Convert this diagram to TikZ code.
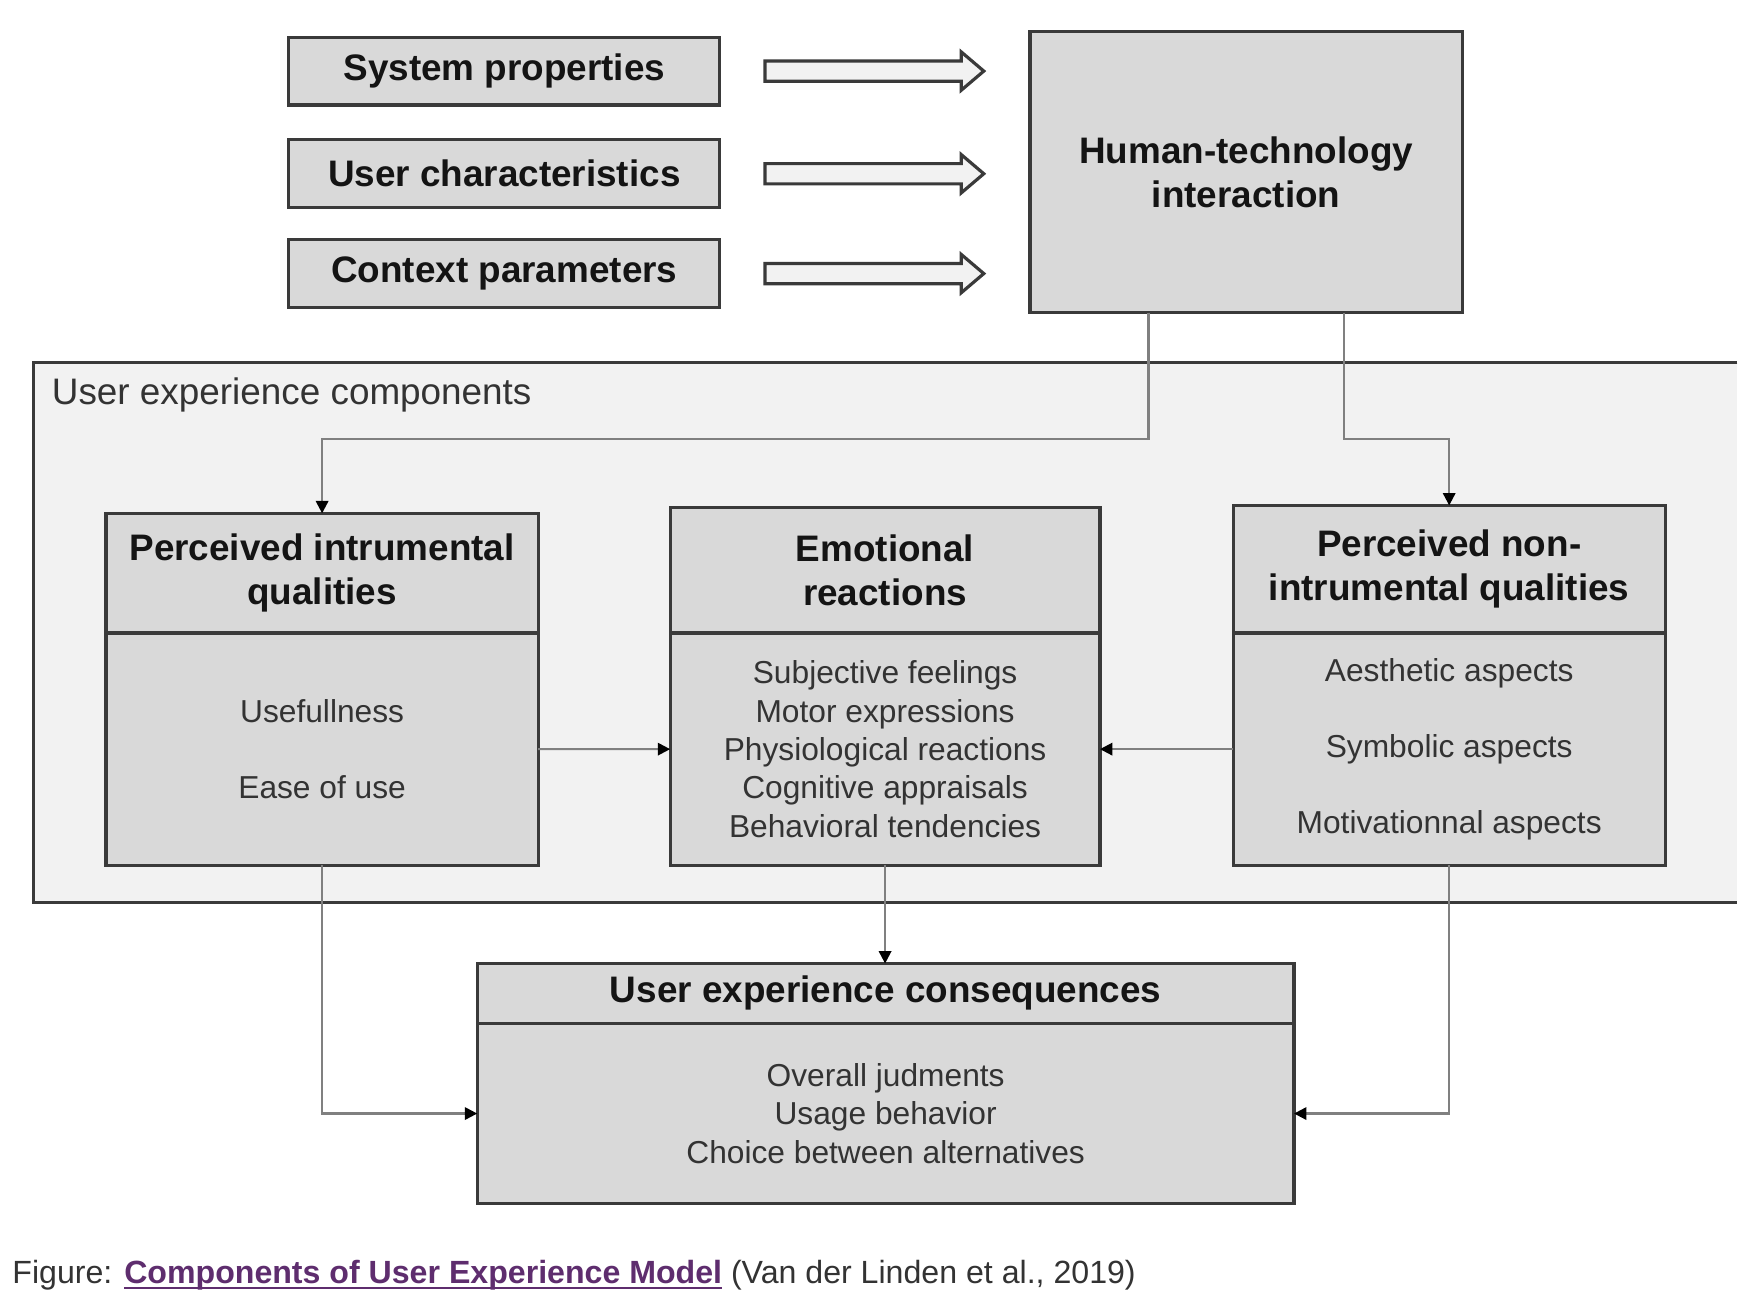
\documentclass[tikz,border=0pt]{standalone}
\usepackage{fontspec}
\setmainfont{Liberation Sans}
\usetikzlibrary{positioning, arrows.meta}
\definecolor{boxgray}{HTML}{D9D9D9}
\definecolor{panelgray}{HTML}{F2F2F2}
\definecolor{edgegray}{HTML}{3A3A3A}
\definecolor{linkgray}{HTML}{808080}
\definecolor{inkgray}{HTML}{141414}
\definecolor{bodygray}{HTML}{333333}
\definecolor{linkpurple}{HTML}{5E2D6E}
\newcommand{\linkul}[1]{\setbox0\hbox{#1}\rlap{\rule[-0.45mm]{\wd0}{0.22mm}}\box0}

\begin{document}
\begin{tikzpicture}[x=0.1mm, y=-0.1mm, inner sep=0pt, outer sep=0pt,
    box/.style = {draw=edgegray, line width=0.8pt, fill=boxgray, align=center, text=inkgray},
    head/.style = {box, font=\bfseries\fontsize{9.3}{11.1}\selectfont},
    body/.style = {box, text=bodygray, font=\fontsize{8.0}{9.7}\selectfont},
    input/.style = {head, minimum width=38.2mm, minimum height=6mm},
    fat/.style = {draw=edgegray, line width=0.8pt, fill=black!5, line join=miter},
    link/.style = {draw=linkgray, line width=0.55pt, -{Triangle[length=1.1mm, width=1.1mm, color=black]}}]

    \useasboundingbox[fill=white] (0,0) rectangle (1560,1156);

    % les entrees
    \node[input] (sys) at (447,63) {System properties};
    \node[input] (usr) at (447,154) {User characteristics};
    \node[input] (ctx) at (447,242.5) {Context parameters};
    \node[head, minimum width=38.3mm, minimum height=24.9mm] (hti) at (1104.5,152.5) {Human-technology\\interaction};

    % fleches creuses
    \draw[fat] ([xshift=4mm, yshift=0.9mm]sys.east) -- ++(17.4mm,0) -- ++(0,0.8mm) -- ++(2mm,-1.7mm)
        -- ++(-2mm,-1.7mm) -- ++(0,0.8mm) -- ++(-17.4mm,0) -- cycle;
    \draw[fat] ([xshift=4mm, yshift=0.9mm]usr.east) -- ++(17.4mm,0) -- ++(0,0.8mm) -- ++(2mm,-1.7mm)
        -- ++(-2mm,-1.7mm) -- ++(0,0.8mm) -- ++(-17.4mm,0) -- cycle;
    \draw[fat] ([xshift=4mm, yshift=0.9mm]ctx.east) -- ++(17.4mm,0) -- ++(0,0.8mm) -- ++(2mm,-1.7mm)
        -- ++(-2mm,-1.7mm) -- ++(0,0.8mm) -- ++(-17.4mm,0) -- cycle;

    % panneau des composantes
    \fill[panelgray] (30,321) rectangle (1540,800);
    \draw[edgegray, line width=0.8pt] (1540,321) -- (30,321) -- (30,800) -- (1540,800);
    \node[anchor=west, text=bodygray, font=\fontsize{9.3}{11}\selectfont] (uxlabel) at (46,350) {User experience components};

    \node[head, minimum width=38.3mm, minimum height=10.6mm] (lefthead) at (285.5,508) {Perceived intrumental\\qualities};
    \node[body, minimum width=38.3mm, minimum height=20.6mm] (leftbody) [below=0pt of lefthead] {Usefullness\\[3.4mm]Ease of use};
    \node[head, minimum width=38.1mm, minimum height=11.1mm] (midhead) at (784.5,505.5) {Emotional\\reactions};
    \node[body, minimum width=38.1mm, minimum height=20.6mm] (midbody) [below=0pt of midhead] {Subjective feelings\\Motor expressions\\Physiological reactions\\Cognitive appraisals\\Behavioral tendencies};
    \node[head, minimum width=38.3mm, minimum height=11.3mm] (righthead) at (1284.5,504.5) {Perceived non-\\intrumental qualities};
    \node[body, minimum width=38.3mm, minimum height=20.6mm] (rightbody) [below=0pt of righthead] {Aesthetic aspects\\[3.35mm]Symbolic aspects\\[3.35mm]Motivationnal aspects};

    % consequences
    \node[head, minimum width=72.4mm, minimum height=5.3mm] (conshead) at (785,880.5) {User experience consequences};
    \node[body, minimum width=72.4mm, minimum height=16mm] (consbody) [below=0pt of conshead] {Overall judments\\Usage behavior\\Choice between alternatives};

    \draw[link] ([xshift=-8.65mm]hti.south) -- ++(0,112) -| (lefthead.north);
    \draw[link] ([xshift=8.65mm]hti.south) -- ++(0,112) -| (righthead.north);
    \draw[link] (leftbody.east) -- (midbody.west);
    \draw[link] (rightbody.west) -- (midbody.east);
    \draw[link] (midbody.south) -- (midbody.south |- conshead.north);
    \draw[link] (leftbody.south) |- (consbody.west);
    \draw[link] (rightbody.south) |- (consbody.east);

    \node[anchor=base west, text=bodygray, font=\fontsize{8.1}{10}\selectfont] (caption) at (11,1138)
        {Figure: \textcolor{linkpurple}{\bfseries\linkul{Components of User Experience Model}} (Van der Linden et al., 2019)};

\end{tikzpicture}
\end{document}
